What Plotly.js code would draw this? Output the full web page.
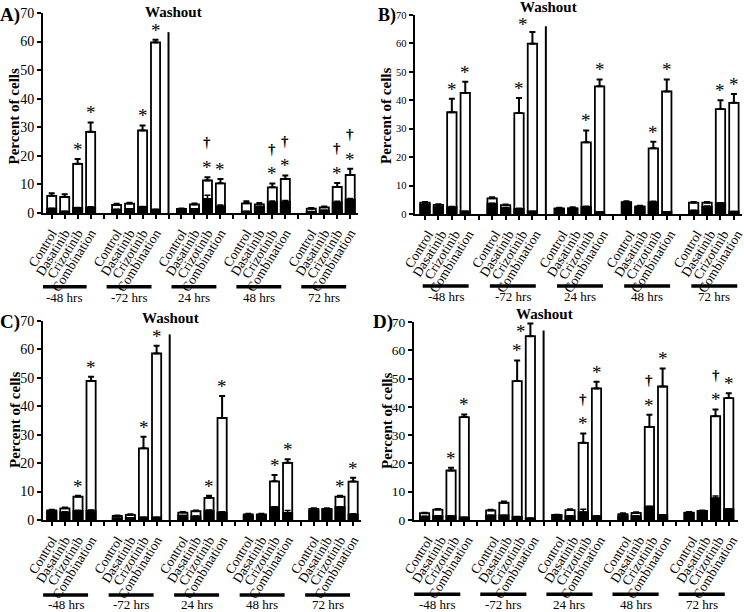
<!DOCTYPE html>
<html><head><meta charset="utf-8">
<script src="https://cdn.plot.ly/plotly-3.0.1.min.js"></script>
<style>html,body{margin:0;padding:0;background:#fff}#chart{width:744px;height:612px}</style>
</head><body><div id="chart"></div>
<script>
// ---- data ----
const categories = ["Control", "Dasatinib", "Crizotinib", "Combination"];
const timepoints = ["-48 hrs", "-72 hrs", "24 hrs", "48 hrs", "72 hrs"];
const yTicks = [0, 10, 20, 30, 40, 50, 60, 70];

// Panel A
const whiteA    = [6.0, 5.6, 17.2, 28.4,  2.8, 3.3, 28.9, 59.7,  1.4, 3.0, 11.4, 10.4,  3.4, 3.0, 9.0, 11.9,  1.5, 2.0, 9.1, 13.3];
const whiteErrA = [0.9, 1.0, 1.7, 3.3,    0.4, 0.3, 1.7, 0.9,    0.2, 0.3, 1.1, 1.5,    0.7, 0.5, 1.3, 1.2,    0.25, 0.3, 1.4, 2.2];
const blackA    = [1.5, 0.5, 1.75, 2.0,   1.2, 1.4, 2.1, 1.2,    0.9, 1.4, 4.9, 2.3,    0.5, 2.1, 3.7, 4.0,    0.4, 0.9, 3.7, 4.7];
const blackErrA = [0.2, 0.1, 0.2, 0.2,    0.1, 0.1, 0.2, 0.1,    0.1, 0.1, 1.3, 0.5,    0.1, 0.2, 0.5, 0.4,    0.1, 0.1, 0.4, 0.4];
const sigA      = ["", "", "*", "*",  "", "", "*", "*",  "", "", "†*", "*",  "", "", "†*", "†*",  "", "", "†*", "†*"];

// Panel B
const whiteB    = [4.0, 3.2, 35.8, 42.6,  5.5, 3.1, 35.5, 59.9,  2.0, 2.1, 25.2, 44.9,  4.2, 2.7, 23.1, 43.1,  4.0, 4.0, 36.9, 39.1];
const whiteErrB = [0.2, 0.2, 4.7, 3.9,    0.4, 0.2, 5.3, 4.1,    0.2, 0.3, 4.2, 2.4,    0.3, 0.2, 2.3, 4.2,    0.2, 0.2, 3.1, 3.1];
const blackB    = [3.4, 2.4, 2.4, 0.9,    3.6, 2.1, 1.8, 0.9,    1.8, 1.8, 2.5, 0.7,    4.0, 2.4, 4.2, 0.7,    1.2, 2.6, 3.8, 0.8];
const blackErrB = [0.2, 0.2, 0.2, 0.1,    0.2, 0.2, 0.2, 0.1,    0.1, 0.1, 0.2, 0.1,    0.2, 0.2, 0.3, 0.1,    0.1, 0.2, 0.2, 0.1];
const sigB      = ["", "", "*", "*",  "", "", "*", "*",  "", "", "*", "*",  "", "", "*", "*",  "", "", "*", "*"];

// Panel C
const whiteC    = [3.4, 4.1, 8.2, 48.9,   1.4, 1.8, 25.2, 58.6,  2.6, 3.1, 7.8, 35.9,   2.0, 2.0, 13.6, 20.1,  3.9, 3.9, 8.2, 13.5];
const whiteErrC = [0.2, 0.3, 0.3, 1.5,    0.2, 0.2, 4.1, 2.7,    0.2, 0.2, 0.7, 7.7,    0.2, 0.2, 2.2, 1.3,    0.2, 0.2, 0.3, 1.4];
const blackC    = [2.9, 2.7, 3.2, 3.3,    0.6, 0.7, 0.9, 0.9,    1.5, 1.3, 3.3, 2.7,    1.4, 1.4, 4.5, 2.5,    3.2, 3.6, 4.5, 2.0];
const blackErrC = [0.2, 0.2, 0.2, 0.2,    0.1, 0.1, 0.1, 0.1,    0.1, 0.1, 0.2, 0.2,    0.1, 0.1, 0.2, 0.8,    0.2, 0.2, 0.2, 0.2];
const sigC      = ["", "", "*", "*",  "", "", "*", "*",  "", "", "*", "*",  "", "", "*", "*",  "", "", "*", "*"];

// Panel D
const whiteD    = [2.4, 3.7, 17.5, 36.4,  3.4, 6.1, 49.1, 65.0,  1.8, 3.5, 27.3, 46.5,  2.1, 2.5, 32.9, 47.2,  2.6, 3.2, 36.7, 43.1];
const whiteErrD = [0.2, 0.2, 1.0, 0.9,    0.2, 0.4, 7.3, 4.5,    0.1, 0.3, 3.3, 2.4,    0.3, 0.2, 4.3, 6.4,    0.2, 0.2, 2.4, 1.7];
const blackD    = [1.2, 1.4, 1.4, 0.9,    1.6, 1.6, 1.1, 0.6,    1.6, 1.4, 2.8, 1.4,    1.4, 1.4, 4.7, 1.8,    2.5, 3.1, 7.7, 3.8];
const blackErrD = [0.1, 0.1, 0.1, 0.1,    0.1, 0.1, 0.1, 0.1,    0.1, 0.1, 1.0, 0.1,    0.1, 0.1, 0.2, 0.1,    0.1, 0.1, 0.8, 0.2];
const sigD      = ["", "", "*", "*",  "", "", "*", "*",  "", "", "†*", "*",  "", "", "†*", "*",  "", "", "†*", "*"];

// ---- layout helpers ----
const W = 744, H = 612;
const fx = px => px / W;
const fy = py => 1 - py / H;
const SERIF = "Liberation Serif, Times New Roman, serif";

// slot positions: 4 bars per group, one empty slot between groups
const slots = [];
timepoints.forEach((t, g) => {
  categories.forEach((c, j) => slots.push(5 * g + j));
});
const tickVals = [];
const tickText = [];
for (let s = 0; s <= 23; s++) { tickVals.push(s); tickText.push((s % 5) < 4 ? categories[s % 5] : ""); }

const panels = [
  {lab: "A)", xa: "x",  ya: "y",  white: whiteA, wErr: whiteErrA, black: blackA, bErr: blackErrA, sig: sigA,
   xPx: [43, 358], xr: [-0.67, 23.6], yPx: [13, 213], washTop: 63.3, washTxt: [173, 12],
   ulY: 286.7, ul: [-0.77, 2.69], grpY: 297.5, yTitle: [13.5, 116], labPos: [-2, 15], labSize: 19, shift: 0, ytf: 14},
  {lab: "B)", xa: "x2", ya: "y2", white: whiteB, wErr: whiteErrB, black: blackB, bErr: blackErrB, sig: sigB,
   xPx: [414.5, 741.7], xr: [-0.78, 23.58], yPx: [15, 214], washTop: 66, washTxt: [548.7, 7],
   ulY: 286, ul: [-0.17, 3.25], grpY: 296.5, yTitle: [386, 116], labPos: [376, 15], labSize: 18, shift: 3, ytf: 10.5},
  {lab: "C)", xa: "x3", ya: "y3", white: whiteC, wErr: whiteErrC, black: blackC, bErr: blackErrC, sig: sigC,
   xPx: [43, 361], xr: [-0.67, 23.6], yPx: [321, 520], washTop: 65.3, washTxt: [170, 317.5],
   ulY: 595, ul: [-0.66, 2.77], grpY: 604.5, yTitle: [15, 420], labPos: [-2, 322], labSize: 19, shift: 0, ytf: 14},
  {lab: "D)", xa: "x4", ya: "y4", white: whiteD, wErr: whiteErrD, black: blackD, bErr: blackErrD, sig: sigD,
   xPx: [414, 738], xr: [-0.8, 23.7], yPx: [322, 520], washTop: 67, washTxt: [544.5, 314],
   ulY: 594.3, ul: [-0.79, 2.70], grpY: 604.5, yTitle: [387, 421], labPos: [371, 322], labSize: 19, shift: 3, ytf: 13.5}
];

const traces = [];
const shapes = [];
const annotations = [];
const layout = {
  width: W, height: H, margin: {l: 0, r: 0, t: 0, b: 0},
  paper_bgcolor: "#fff", plot_bgcolor: "rgba(0,0,0,0)",
  barmode: "overlay", showlegend: false,
  font: {family: SERIF, color: "#000"}
};

panels.forEach((p, i) => {
  const sfx = i === 0 ? "" : String(i + 1);
  layout["xaxis" + sfx] = {
    domain: [fx(p.xPx[0]), fx(p.xPx[1])], range: p.xr, anchor: p.ya,
    showline: true, linewidth: 2, linecolor: "#000", zeroline: false, showgrid: false,
    ticks: "outside", ticklen: 4, tickwidth: 2, tickcolor: "#000",
    tickmode: "array", tickvals: tickVals, ticktext: tickText, tickangle: -58,
    ticklabelshift: p.shift, ticklabelstandoff: 1, ticklabeloverflow: "allow",
    tickfont: {family: SERIF, size: 13.5, color: "#000"}, fixedrange: true
  };
  layout["yaxis" + sfx] = {
    domain: [fy(p.yPx[1]), fy(p.yPx[0])], range: [0, 70], anchor: p.xa,
    showline: true, linewidth: 2, linecolor: "#000", zeroline: false, showgrid: false,
    ticks: "outside", ticklen: 4, tickwidth: 2, tickcolor: "#000",
    tickmode: "array", tickvals: yTicks, ticktext: yTicks.map(String), ticklabelstandoff: 0,
    tickfont: {family: SERIF, size: p.ytf, color: "#000"}, fixedrange: true
  };

  traces.push({
    type: "bar", x: slots, y: p.white, width: 0.7, xaxis: p.xa, yaxis: p.ya,
    marker: {color: "#fff", line: {color: "#000", width: 1.8}},
    error_y: {type: "data", symmetric: false, array: p.wErr, arrayminus: p.wErr.map(() => 0),
              color: "#000", thickness: 2, width: 3},
    hoverinfo: "skip"
  });
  traces.push({
    type: "bar", x: slots, y: p.black, width: 0.7, xaxis: p.xa, yaxis: p.ya,
    marker: {color: "#000", line: {color: "#000", width: 1.8}},
    error_y: {type: "data", symmetric: false, array: p.bErr, arrayminus: p.bErr.map(() => 0),
              color: "#000", thickness: 1.5, width: 3},
    hoverinfo: "skip"
  });

  // significance marks (placed above the error bar; beside it when there is no room above)
  p.sig.forEach((s, k) => {
    if (!s) return;
    const top = p.white[k] + p.wErr[k];
    let starY = top + 4.8, xs = 0;
    if (starY > 68.5) { starY = 68; xs = -9; }
    annotations.push({xref: p.xa, yref: p.ya, x: slots[k], y: starY, text: "*", showarrow: false,
      font: {family: SERIF, size: 19, color: "#000"}, yanchor: "middle", xanchor: "center", yshift: -4, xshift: xs});
    if (s.indexOf("†") >= 0) {
      annotations.push({xref: p.xa, yref: p.ya, x: slots[k], y: starY + 7.4, text: "<b>†</b>", showarrow: false,
        font: {family: SERIF, size: 15, color: "#000"}, yanchor: "middle", xanchor: "center"});
    }
  });

  // washout line
  shapes.push({type: "line", xref: p.xa, yref: p.ya, x0: 9, x1: 9, y0: 0, y1: p.washTop,
    line: {color: "#000", width: 2}});
  annotations.push({xref: "paper", yref: "paper", x: fx(p.washTxt[0]), y: fy(p.washTxt[1]),
    text: "<b>Washout</b>", showarrow: false, xanchor: "center", yanchor: "middle",
    font: {family: SERIF, size: 15, color: "#000"}});

  // group bars & labels
  timepoints.forEach((t, g) => {
    shapes.push({type: "line", xref: p.xa, yref: "paper", x0: 5 * g + p.ul[0], x1: 5 * g + p.ul[1],
      y0: fy(p.ulY), y1: fy(p.ulY), line: {color: "#000", width: 3.5}});
    annotations.push({xref: p.xa, yref: "paper", x: 5 * g + (p.ul[0] + p.ul[1]) / 2, y: fy(p.grpY),
      text: t, showarrow: false, xanchor: "center", yanchor: "middle",
      font: {family: SERIF, size: 13, color: "#000"}});
  });

  // y title
  annotations.push({xref: "paper", yref: "paper", x: fx(p.yTitle[0]), y: fy(p.yTitle[1]),
    text: "<b>Percent of cells</b>", textangle: -90, showarrow: false, xanchor: "center", yanchor: "middle",
    font: {family: SERIF, size: 15, color: "#000"}});
  // panel label
  annotations.push({xref: "paper", yref: "paper", x: fx(p.labPos[0]), y: fy(p.labPos[1]),
    text: "<b>" + p.lab + "</b>", showarrow: false, xanchor: "left", yanchor: "middle",
    font: {family: SERIF, size: p.labSize, color: "#000"}});
});

layout.shapes = shapes;
layout.annotations = annotations;
Plotly.newPlot("chart", traces, layout, {staticPlot: true, displayModeBar: false});
</script>
</body></html>
